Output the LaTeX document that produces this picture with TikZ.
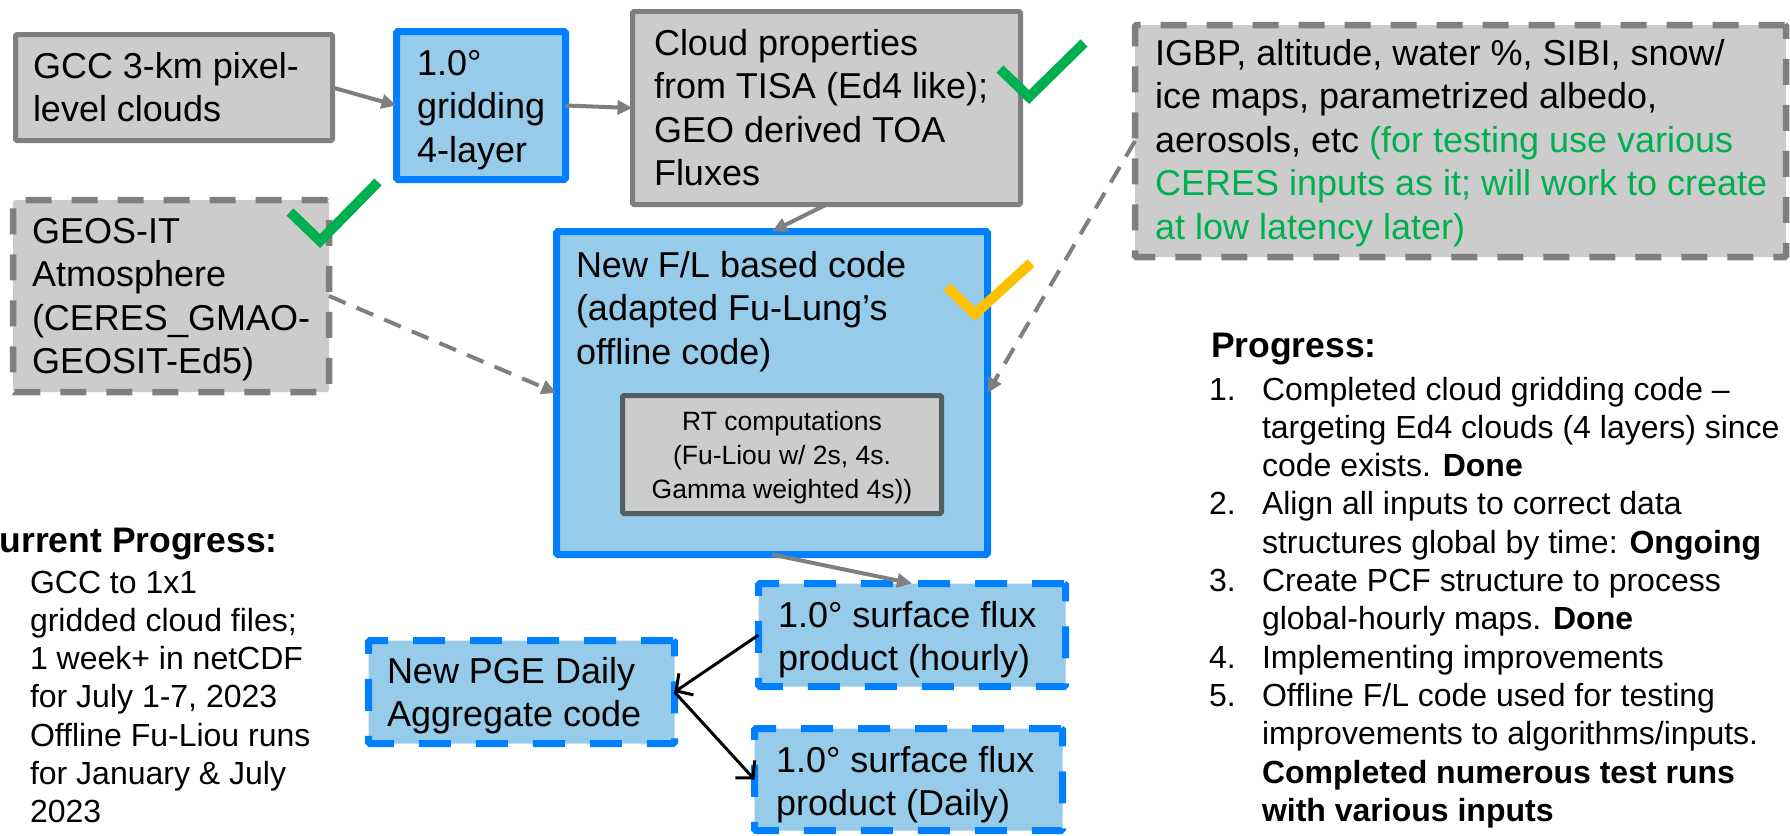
\documentclass[tikz,border=0pt]{standalone}
\usepackage{fontspec}
\setmainfont{Liberation Sans}
\usetikzlibrary{arrows.meta}
\definecolor{boxgray}{RGB}{204,204,204}
\definecolor{edgegray}{RGB}{127,127,127}
\definecolor{fillblue}{RGB}{151,203,234}
\definecolor{edgeblue}{RGB}{0,128,255}
\definecolor{rtedge}{RGB}{80,95,95}
\definecolor{okgreen}{RGB}{0,176,80}
\definecolor{okyellow}{RGB}{255,192,0}
\begin{document}
\begin{tikzpicture}[x=1pt,y=-1pt,
  box/.style={rectangle, inner sep=0pt, outer sep=0pt, rounded corners=1.5pt},
  graybox/.style={box, fill=boxgray, draw=edgegray, line width=5pt},
  grayd/.style={box, fill=boxgray, draw=edgegray, line width=6.5pt, dash pattern=on 26pt off 20pt},
  bluebox/.style={box, fill=fillblue, draw=edgeblue, line width=7pt},
  blued/.style={box, fill=fillblue, draw=edgeblue, line width=7pt, dash pattern=on 32pt off 25pt},
  rtbox/.style={box, fill=boxgray, draw=rtedge, line width=5pt},
  txt/.style={inner sep=0pt, outer sep=0pt, align=left, anchor=base west, font=\fontsize{36}{43.5}\selectfont},
  smalltxt/.style={inner sep=0pt, outer sep=0pt, align=center, anchor=base, font=\fontsize{26.5}{34}\selectfont},
  listtxt/.style={inner sep=0pt, outer sep=0pt, align=left, anchor=base west, font=\fontsize{32}{38.3}\selectfont},
  headtxt/.style={inner sep=0pt, outer sep=0pt, anchor=base west, font=\fontsize{35.5}{40}\selectfont\bfseries},
  garrow/.style={draw=edgegray, line width=4pt, -{Triangle[length=15pt,width=14pt]}},
  gdarrow/.style={garrow, dash pattern=on 18pt off 12pt},
  barrow/.style={draw=black, line width=3pt, -{Straight Barb[length=12pt,width=26pt,line width=3pt]}},
  tick/.style={line width=10pt, line cap=butt, line join=miter}
]
\useasboundingbox (0,0) rectangle (1790,835);

% boxes
\node[graybox, minimum width=317pt, minimum height=106pt] (gcc) at (174,87.5) {};
\node[bluebox, minimum width=169pt, minimum height=148pt] (grid) at (481,105.5) {};
\node[graybox, minimum width=388pt, minimum height=193pt] (cloud) at (826.5,108) {};
\node[grayd, minimum width=651pt, minimum height=232pt] (igbp) at (1460.5,141) {};
\node[grayd, minimum width=316pt, minimum height=192pt] (geos) at (171,296) {};
\node[bluebox, minimum width=431pt, minimum height=323pt] (fl) at (772,393) {};
\node[rtbox, minimum width=319pt, minimum height=118pt] (rt) at (782,454.5) {};
\node[blued, minimum width=307pt, minimum height=103pt] (hourly) at (912,635) {};
\node[blued, minimum width=308pt, minimum height=102pt] (daily) at (908.5,779.5) {};
\node[blued, minimum width=306pt, minimum height=103pt] (pge) at (521.5,692) {};

% texts (anchored at the baseline of the last line)
\node[txt] (gcct) at (33,121.5) {GCC 3-km pixel-\\level clouds};
\node[txt] (gridt) at (417,162) {1.0°\\gridding\\4-layer};
\node[txt] (cloudt) at (654,185.5) {Cloud properties\\from TISA (Ed4 like);\\GEO derived TOA\\Fluxes};
\node[txt] (igbpt) at (1155,239) {IGBP, altitude, water \%, SIBI, snow/\\ice maps, parametrized albedo,\\aerosols, etc \textcolor{okgreen}{(for testing use various}\\\textcolor{okgreen}{CERES inputs as it; will work to create}\\\textcolor{okgreen}{at low latency later)}};
\node[txt] (geost) at (32,373.5) {GEOS-IT\\Atmosphere\\(CERES\_GMAO-\\GEOSIT-Ed5)};
\node[txt] (flt) at (576,364) {New F/L based code\\(adapted Fu-Lung’s\\offline code)};
\node[smalltxt] (rtt) at (782,498) {RT computations\\(Fu-Liou w/ 2s, 4s.\\Gamma weighted 4s))};
\node[txt] (hourlyt) at (778,670.5) {1.0° surface flux\\product (hourly)};
\node[txt] (dailyt) at (776,815.5) {1.0° surface flux\\product (Daily)};
\node[txt] (pget) at (387,726.5) {New PGE Daily\\Aggregate code};

\node[headtxt] (curt) at (-26,552) {Current Progress:};
\node[listtxt] (curlist) at (30,822.8) {GCC to 1x1\\gridded cloud files;\\1 week+ in netCDF\\for July 1-7, 2023\\Offline Fu-Liou runs\\for January \& July\\2023};

\node[headtxt] (progt) at (1211,357) {Progress:};
\node[listtxt] (proglist) at (1262,821.3) {%
\llap{\makebox[53pt][l]{1.}}Completed cloud gridding code –\\
targeting Ed4 clouds (4 layers) since\\
code exists. \textbf{Done}\\
\llap{\makebox[53pt][l]{2.}}Align all inputs to correct data\\
structures global by time: \textbf{Ongoing}\\
\llap{\makebox[53pt][l]{3.}}Create PCF structure to process\\
global-hourly maps. \textbf{Done}\\
\llap{\makebox[53pt][l]{4.}}Implementing improvements\\
\llap{\makebox[53pt][l]{5.}}Offline F/L code used for testing\\
improvements to algorithms/inputs.\\
\textbf{Completed numerous test runs}\\
\textbf{with various inputs}};

% connectors
\draw[garrow] (gcc.east) -- (grid.west);
\draw[garrow] (grid.east) -- (cloud.west);
\draw[garrow] (cloud.south) -- (fl.north);
\draw[gdarrow] (geos.east) -- (fl.west);
\draw[gdarrow] (igbp.west) -- (fl.east);
\draw[garrow] (fl.south) -- (hourly.north);
\draw[barrow] (hourly.west) -- (pge.east);
\draw[barrow] (pge.east) -- (daily.west);

% check marks
\draw[tick, okgreen] (290,212) -- (320,241) -- (378,182);
\draw[tick, okgreen] (1000,69) -- (1029,97) -- (1084,43);
\draw[tick, okyellow] (947,287) -- (975,314) -- (1031,263);
\end{tikzpicture}
\end{document}
